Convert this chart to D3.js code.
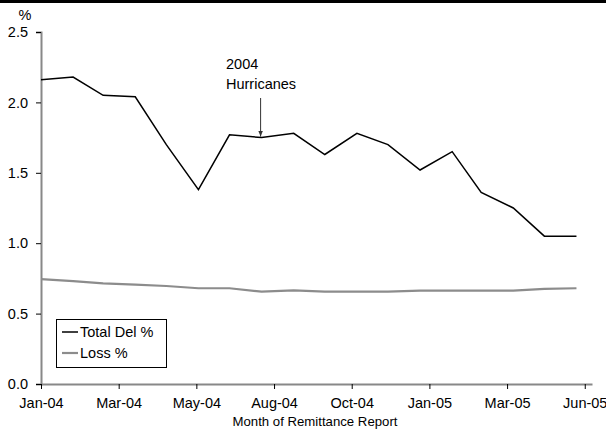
<!DOCTYPE html>
<html><head><meta charset="utf-8">
<script src="https://cdn.jsdelivr.net/npm/d3@7"></script>
<style>
html,body{margin:0;padding:0;background:#fff;}
svg{display:block;font-family:"Liberation Sans",Arial,sans-serif;}
</style></head>
<body>
<svg id="chart" width="606" height="430"></svg>
<script>
const months = ["2004-01-01","2004-02-01","2004-03-01","2004-04-01","2004-05-01","2004-06-01",
  "2004-07-01","2004-08-01","2004-09-01","2004-10-01","2004-11-01","2004-12-01",
  "2005-01-01","2005-02-01","2005-03-01","2005-04-01","2005-05-01","2005-06-01"];
const totalDel = [2.16, 2.18, 2.05, 2.04, 1.70, 1.38, 1.77, 1.75, 1.78, 1.63, 1.78, 1.70,
  1.52, 1.65, 1.36, 1.25, 1.05, 1.05];
const loss = [0.745, 0.73, 0.715, 0.706, 0.696, 0.68, 0.68, 0.656, 0.665, 0.656, 0.656, 0.656,
  0.663, 0.663, 0.663, 0.663, 0.675, 0.68];
const xTickDates = ["2004-01-01","2004-03-16","2004-05-30","2004-08-13","2004-10-27","2005-01-10","2005-03-26","2005-06-09"];
const xTickLabels = ["Jan-04","Mar-04","May-04","Aug-04","Oct-04","Jan-05","Mar-05","Jun-05"];
const yTicks = [0, 0.5, 1.0, 1.5, 2.0, 2.5];
const seriesNames = ["Total Del %", "Loss %"];
const annotation = {date: "2004-08-01", lines: ["2004", "Hurricanes"]};

const parse = d3.utcParse("%Y-%m-%d");
const svg = d3.select("#chart");
const FS = 14.5;

const x = d3.scaleUtc().domain([parse("2004-01-01"), parse("2005-06-16")]).range([41, 592]);
const y = d3.scaleLinear().domain([0, 2.5]).range([384, 32]);

// top border
svg.append("rect").attr("x",0).attr("y",0).attr("width",606).attr("height",3).attr("fill","#000");

// y axis
const yAxis = d3.axisLeft(y).tickValues(yTicks).tickFormat(d3.format(".1f")).tickSize(5).tickPadding(8);
const gy = svg.append("g").attr("transform","translate(41,0)").call(yAxis);
gy.select(".domain").attr("stroke","#888").attr("stroke-width",2);
gy.selectAll(".tick line").attr("stroke","#000");
gy.selectAll(".tick text").attr("font-size",FS).attr("font-family","Liberation Sans, Arial, sans-serif").attr("fill","#000");

// x axis
const xTickVals = xTickDates.map(parse);
const xAxis = d3.axisBottom(x).tickValues(xTickVals).tickFormat((d,i)=>xTickLabels[i]).tickSize(5).tickPadding(9).tickSizeOuter(0);
const gx = svg.append("g").attr("transform","translate(0,384)").call(xAxis);
gx.select(".domain").attr("stroke","#888").attr("stroke-width",2);
gx.selectAll(".tick line").attr("stroke","#000");
gx.selectAll(".tick text").attr("font-size",FS).attr("font-family","Liberation Sans, Arial, sans-serif").attr("fill","#000");

// axis titles
svg.append("text").attr("x",25).attr("y",20).attr("text-anchor","middle").attr("font-size",FS).text("%");
svg.append("text").attr("x",315).attr("y",426).attr("text-anchor","middle").attr("font-size",13.2).text("Month of Remittance Report");

// lines
const dates = months.map(parse);
const line = d3.line().x(d=>x(d[0])).y(d=>y(d[1]));
svg.append("path").datum(dates.map((d,i)=>[d, loss[i]]))
  .attr("d", line).attr("fill","none").attr("stroke","#8c8c8c").attr("stroke-width",2.2);
svg.append("path").datum(dates.map((d,i)=>[d, totalDel[i]]))
  .attr("d", line).attr("fill","none").attr("stroke","#000").attr("stroke-width",1.5);

// annotation
const ad = parse(annotation.date);
const ai = months.indexOf(annotation.date);
const ax = x(ad);
svg.append("text").attr("x",226).attr("y",69).attr("font-size",FS).text(annotation.lines[0]);
svg.append("text").attr("x",226).attr("y",89).attr("font-size",FS).text(annotation.lines[1]);
svg.append("defs").append("marker").attr("id","arr").attr("viewBox","0 0 10 10")
  .attr("refX",10).attr("refY",5).attr("markerWidth",6).attr("markerHeight",6).attr("orient","auto")
  .append("path").attr("d","M0,1 L10,5 L0,9 z").attr("fill","#333");
svg.append("line").attr("x1",ax-1).attr("x2",ax-1).attr("y1",98).attr("y2",y(totalDel[ai])-1)
  .attr("stroke","#333").attr("stroke-width",1).attr("marker-end","url(#arr)");

// legend
const lg = svg.append("g");
lg.append("rect").attr("x",56.5).attr("y",319.5).attr("width",110).attr("height",48).attr("fill","#fff").attr("stroke","#000").attr("stroke-width",1);
const colors = ["#000","#8c8c8c"];
const widths = [1.5, 2.2];
seriesNames.forEach((n,i)=>{
  const yy = 332 + i*21;
  lg.append("line").attr("x1",62).attr("x2",78).attr("y1",yy).attr("y2",yy).attr("stroke",colors[i]).attr("stroke-width",widths[i]);
  lg.append("text").attr("x",80).attr("y",yy+5).attr("font-size",FS).text(n);
});
</script>
</body></html>
